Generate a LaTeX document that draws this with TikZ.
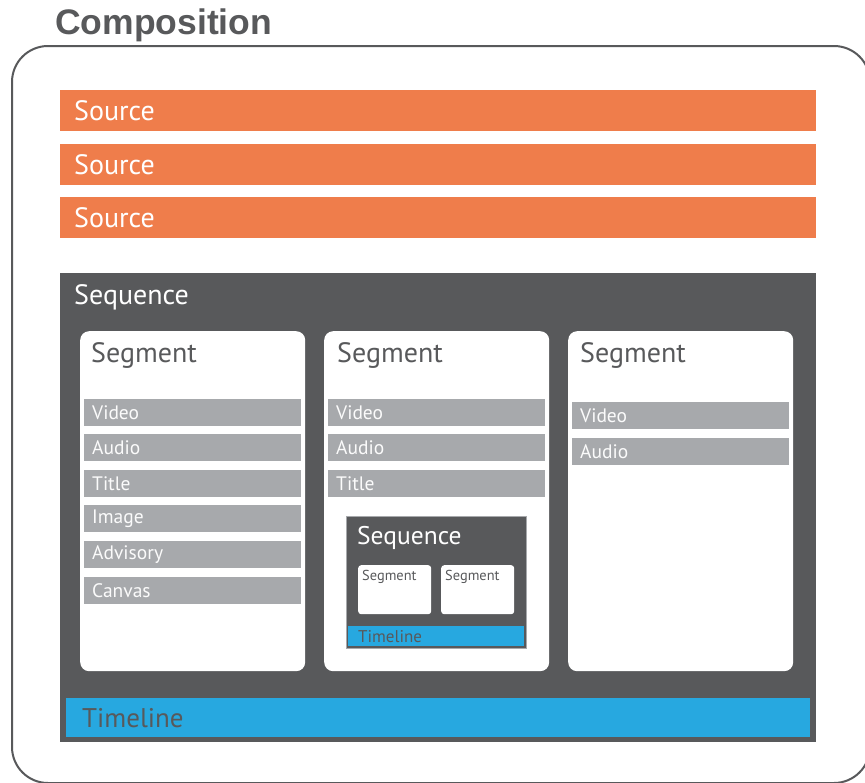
\documentclass[tikz,border=0pt]{standalone}
\usepackage{fontspec}
\setmainfont{PT Sans}
\newfontfamily\titlefont{Liberation Sans}
\usetikzlibrary{positioning}

\definecolor{darkgray}{HTML}{58595B}
\definecolor{srcorange}{HTML}{EF7D4B}
\definecolor{tlblue}{HTML}{27A8E0}
\definecolor{trackgray}{HTML}{A7A9AC}

\begin{document}
\begin{tikzpicture}[x=1pt,y=-1pt]

\tikzset{srcbar/.style = {fill=srcorange, text=white, anchor=north west, minimum height=41pt,
  text width=728pt, inner xsep=14pt, inner ysep=0pt, font=\fontsize{28}{28}\selectfont}}
\tikzset{seqbox/.style = {fill=darkgray, anchor=north west, inner sep=0pt}}
\tikzset{segbox/.style = {fill=white, rounded corners=9pt, anchor=north west, inner sep=0pt,
  minimum width=225pt, minimum height=340pt}}
\tikzset{segtitle/.style = {anchor=west, text=darkgray, inner sep=0pt, font=\fontsize{28}{28}\selectfont}}
\tikzset{track/.style = {fill=trackgray, text=white!95!trackgray, anchor=north west, minimum height=27pt,
  text width=201pt, inner xsep=8pt, inner ysep=0pt, font=\fontsize{19.5}{19.5}\selectfont}}
\tikzset{smallseg/.style = {fill=white, rounded corners=3pt, anchor=north west, inner sep=0pt,
  minimum width=73pt, minimum height=49pt}}

\useasboundingbox (0,0) rectangle (865,782);

%composition
\node[anchor=base west, text=darkgray, inner sep=0pt, font=\titlefont\bfseries\fontsize{35.5}{35.5}\selectfont]
  (comptitle) at (55,34) {Composition};
\draw[darkgray, line width=2pt, rounded corners=36pt] (12,46) rectangle (870,783);

%sources
\node[srcbar] (src1) at (60,90) {Source};
\node[srcbar] (src2) at (60,144) {Source};
\node[srcbar] (src3) at (60,197) {Source};

%sequence
\node[seqbox, minimum width=756pt, minimum height=469pt] (seq) at (60,273) {};
\node[anchor=west, text=white, inner sep=0pt, font=\fontsize{28}{28}\selectfont] (seqtitle) at (74,297) {Sequence};

%segments
\node[segbox] (seg1) at (80,331) {};
\node[segbox] (seg2) at (324,331) {};
\node[segbox] (seg3) at (568,331) {};
\node[segtitle] (seg1title) at (91,355) {Segment};
\node[segtitle] (seg2title) at (337,355) {Segment};
\node[segtitle] (seg3title) at (580,355) {Segment};

%tracks
\node[track] (v1) at (84,399) {Video};
\node[track] (a1) at (84,434) {Audio};
\node[track] (t1) at (84,470) {Title};
\node[track] (i1) at (84,505) {Image};
\node[track] (ad1) at (84,541) {Advisory};
\node[track] (c1) at (84,577) {Canvas};
\node[track] (v2) at (328,399) {Video};
\node[track] (a2) at (328,434) {Audio};
\node[track] (t2) at (328,470) {Title};
\node[track] (v3) at (572,402) {Video};
\node[track] (a3) at (572,438) {Audio};

%nested sequence
\node[seqbox, draw=trackgray, line width=1pt, minimum width=180pt, minimum height=132pt] (subseq) at (346,516) {};
\node[anchor=west, text=white, inner sep=0pt, font=\fontsize{25.5}{25.5}\selectfont] (subseqtitle) at (357,538) {Sequence};
\node[smallseg] (subseg1) at (358,565) {};
\node[smallseg] (subseg2) at (441,565) {};
\node[anchor=north west, text=darkgray, inner sep=0pt, font=\fontsize{14.4}{14.4}\selectfont] at (362,570) {Segment};
\node[anchor=north west, text=darkgray, inner sep=0pt, font=\fontsize{14.4}{14.4}\selectfont] at (445,570) {Segment};
\node[fill=tlblue, text=darkgray, anchor=north west, minimum height=20pt, text width=156pt,
  inner xsep=10pt, inner ysep=0pt, font=\fontsize{17}{17}\selectfont] (subtl) at (348,626) {Timeline};

%timeline
\node[fill=tlblue, text=darkgray, anchor=north west, minimum height=39pt, text width=712pt,
  inner xsep=16pt, inner ysep=0pt, font=\fontsize{27}{27}\selectfont] (tl) at (66,698) {Timeline};

\end{tikzpicture}
\end{document}
